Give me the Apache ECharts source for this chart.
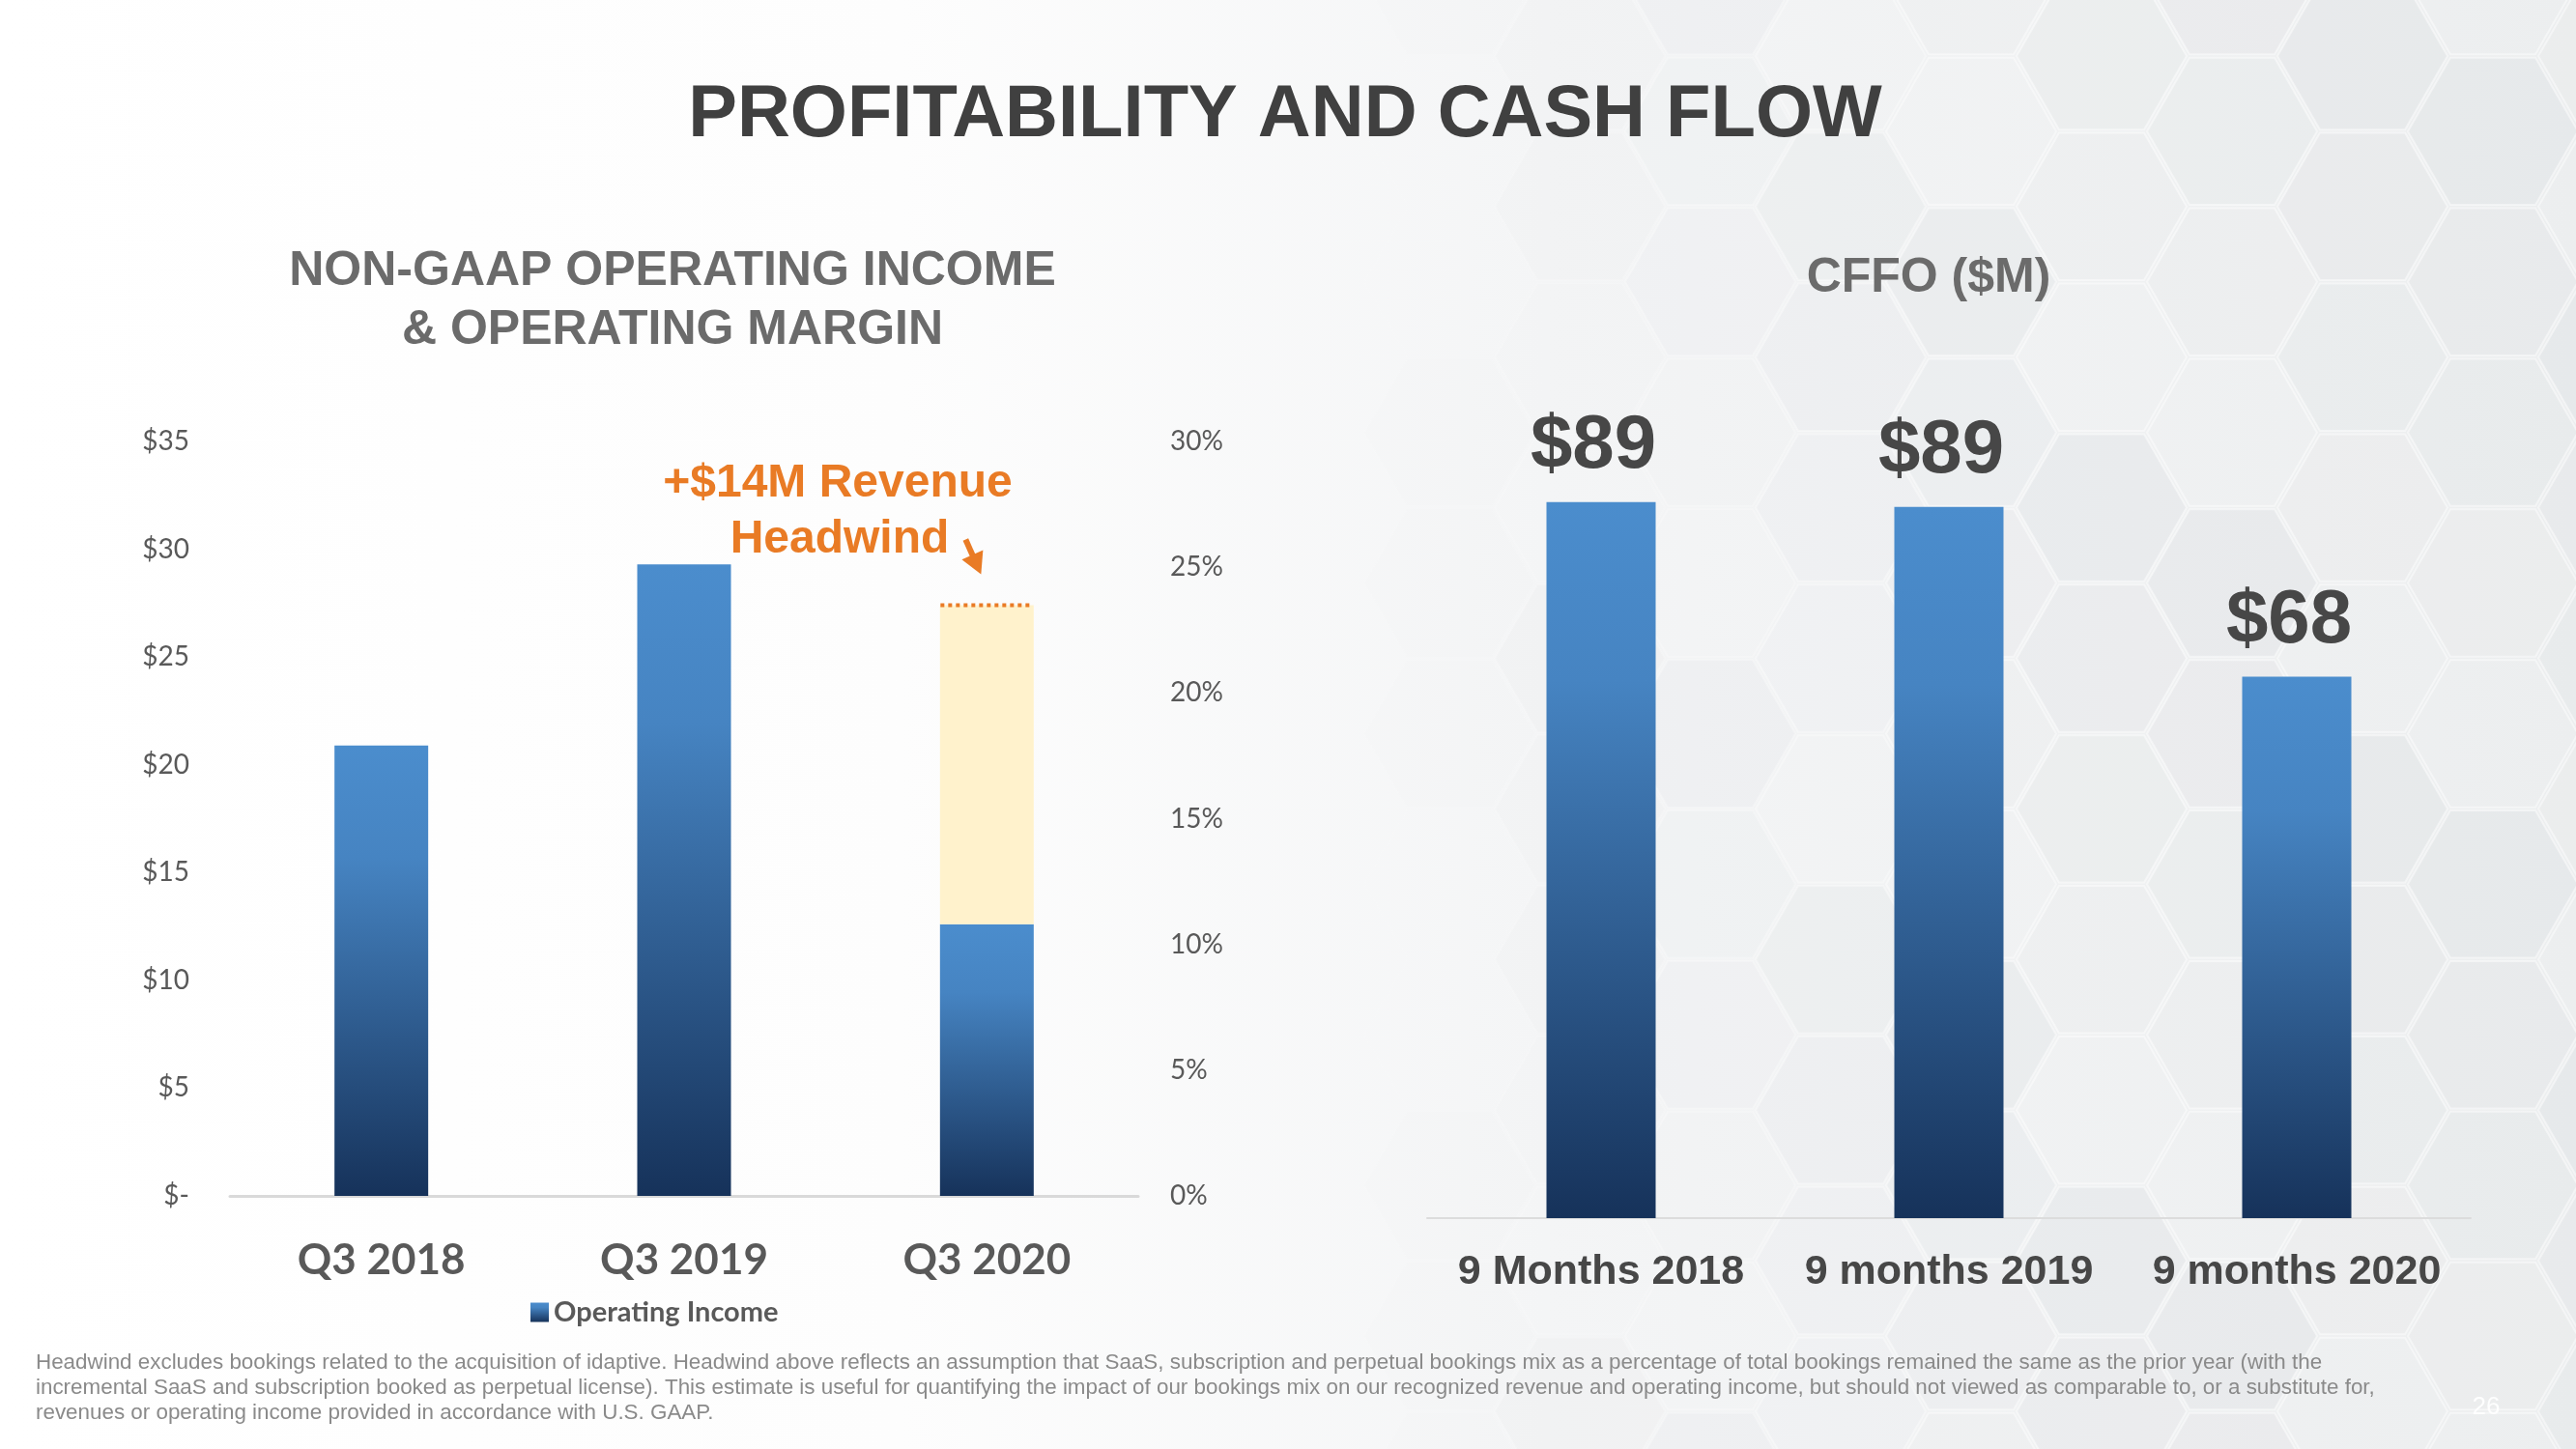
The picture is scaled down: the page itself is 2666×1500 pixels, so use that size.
<!DOCTYPE html>
<html><head><meta charset="utf-8">
<script src="https://cdn.jsdelivr.net/npm/echarts@6/dist/echarts.min.js"></script>
<style>html,body{margin:0;padding:0;background:#fff}#c{width:2666px;height:1500px}</style>
</head><body><div id="c"></div>
<script>
// ---- data ----
const quarters = ['Q3 2018', 'Q3 2019', 'Q3 2020'];
const operatingIncome = [20.9, 29.3, 12.6];
const revenueHeadwind = [null, null, 14.8];
const incomeTickLabels = ['$-', '$5', '$10', '$15', '$20', '$25', '$30', '$35'];
const marginTickLabels = ['0%', '5%', '10%', '15%', '20%', '25%', '30%'];
const periods = ['9 Months 2018', '9 months 2019', '9 months 2020'];
const cffo = [89.4, 88.8, 67.6];
const cffoLabels = ['$89', '$89', '$68'];
const footnote = [
  'Headwind excludes bookings related to the acquisition of idaptive. Headwind above reflects an assumption that SaaS, subscription and perpetual bookings mix as a percentage of total bookings remained the same as the prior year (with the',
  'incremental SaaS and subscription booked as perpetual license). This estimate is useful for quantifying the impact of our bookings mix on our recognized revenue and operating income, but should not viewed as comparable to, or a substitute for,',
  'revenues or operating income provided in accordance with U.S. GAAP.'
];

const chart = echarts.init(document.getElementById('c'), null, {renderer: 'canvas'});
const barGrad = () => new echarts.graphic.LinearGradient(0, 0, 0, 1, [
  {offset: 0, color: '#4B8DCD'}, {offset: 0.25, color: '#4684C2'}, {offset: 1, color: '#16325A'}
]);
const ORANGE = '#E97B25';
const stackTop = operatingIncome[2] + revenueHeadwind[2];

chart.setOption({
  animation: false,
  grid: [
    {left: 238, right: 1488, top: 457, bottom: 262, outerBoundsMode: 'none'},
    {left: 1477, right: 109, top: 432, bottom: 239, outerBoundsMode: 'none'}
  ],
  legend: {
    data: ['Operating Income'], left: 544, top: 1339, icon: 'rect',
    itemWidth: 19, itemHeight: 20, itemGap: 10,
    textStyle: {fontFamily: 'Lato', fontWeight: 'bold', fontSize: 29, color: '#595959'}
  },
  xAxis: [
    {type: 'category', gridIndex: 0, data: quarters,
     axisTick: {show: false},
     axisLine: {lineStyle: {color: '#d9d9d9', width: 3}},
     axisLabel: {interval: 0, fontFamily: 'Lato', fontWeight: 'bold', fontSize: 44, color: '#595959', margin: 45}},
    {type: 'category', gridIndex: 1, data: periods,
     axisTick: {show: false},
     axisLine: {lineStyle: {color: '#dcdcdc', width: 2}},
     axisLabel: {interval: 0, fontFamily: 'Liberation Sans', fontWeight: 'bold', fontSize: 43, color: '#474747', margin: 35}}
  ],
  yAxis: [
    {type: 'value', gridIndex: 0, min: 0, max: 35, interval: 5,
     splitLine: {show: false}, axisLine: {show: false}, axisTick: {show: false},
     axisLabel: {formatter: v => incomeTickLabels[Math.round(v / 5)], fontFamily: 'Lato', fontSize: 28, color: '#595959', margin: 42}},
    {type: 'value', gridIndex: 0, position: 'right', min: 0, max: 30, interval: 5,
     splitLine: {show: false}, axisLine: {show: false}, axisTick: {show: false},
     axisLabel: {formatter: v => marginTickLabels[Math.round(v / 5)], fontFamily: 'Lato', fontSize: 28, color: '#595959', margin: 33}},
    {type: 'value', gridIndex: 1, min: 0, max: 100, show: false}
  ],
  series: [
    {name: 'Operating Income', type: 'bar', xAxisIndex: 0, yAxisIndex: 0, stack: 'oi',
     barWidth: 97, data: operatingIncome, itemStyle: {color: barGrad()}},
    {name: 'Revenue Headwind', type: 'bar', xAxisIndex: 0, yAxisIndex: 0, stack: 'oi',
     barWidth: 97, data: revenueHeadwind, itemStyle: {color: '#FFF2CC'}},
    {name: 'Headwind top', type: 'custom', xAxisIndex: 0, yAxisIndex: 0, z: 5,
     data: [[2, stackTop]],
     renderItem: (params, api) => {
       const p = api.coord([api.value(0), api.value(1)]);
       return {type: 'line', shape: {x1: p[0] - 48, y1: p[1], x2: p[0] + 48, y2: p[1]},
               style: {stroke: ORANGE, lineWidth: 4, lineDash: [4, 4]}};
     }},
    {name: 'CFFO', type: 'bar', xAxisIndex: 1, yAxisIndex: 2, barWidth: 113, data: cffo,
     itemStyle: {color: barGrad()},
     label: {show: true, position: 'top', distance: 18, offset: [-8, 0],
             formatter: p => cffoLabels[p.dataIndex],
             fontFamily: 'Liberation Sans', fontWeight: 'bold', fontSize: 78, color: '#474747'}}
  ]
});

// ---- decorations / text ----
const g = [];
g.push({type: 'rect', z: -20, silent: true, shape: {x: 0, y: 0, width: 2666, height: 1500},
  style: {fill: new echarts.graphic.LinearGradient(0, 0, 1, 0, [
    {offset: 0, color: '#ffffff'}, {offset: 0.35, color: '#fdfdfd'}, {offset: 0.6, color: '#f4f5f6'}, {offset: 1, color: '#eceeef'}])}});
// hexagon texture
const R = 90, H = Math.sqrt(3) * R;
const shades = [0.0, 0.35, 0.6, 0.15, 0.45];
for (let col = 0; col < 30; col++) {
  const cx = 1500 + (col - 12) * 1.5 * R;
  if (cx < 1350 || cx > 2666 + R) continue;
  for (let row = -1; row * H < 1500 + H; row++) {
    const cy = row * H + (col % 2 ? H / 2 : 0) - 20;
    const fade = Math.max(0, Math.min(1, (cx - 1400) / 700));
    const a = shades[(col * 3 + row * 2) % 5] * fade;
    const pts = [];
    for (let k = 0; k < 6; k++) {
      const ang = Math.PI / 3 * k;
      pts.push([cx + (R - 2) * Math.cos(ang), cy + (R - 2) * Math.sin(ang)]);
    }
    g.push({type: 'polygon', z: -10, silent: true, shape: {points: pts},
      style: {fill: 'rgba(214,218,222,' + (a * 0.4).toFixed(3) + ')', stroke: 'rgba(255,255,255,' + (0.45 * fade).toFixed(3) + ')', lineWidth: 2}});
  }
}
function txt(text, x, y, size, color, weight, align, family) {
  return {type: 'text', z: 100, x: x, y: y,
    style: {text: text, fontSize: size, fontWeight: weight || 'normal', fontFamily: family || 'Liberation Sans',
      fill: color, align: align || 'center', verticalAlign: 'middle', textAlign: align || 'center', textVerticalAlign: 'middle'}};
}
g.push(txt('PROFITABILITY AND CASH FLOW', 1330, 120, 76, '#404040', 'bold'));
g.push(txt('NON-GAAP OPERATING INCOME', 696, 281, 50, '#6b6b6b', 'bold'));
g.push(txt('& OPERATING MARGIN', 696, 342, 50, '#6b6b6b', 'bold'));
g.push(txt('CFFO ($M)', 1996, 288, 50, '#6b6b6b', 'bold'));
g.push(txt('+$14M Revenue', 867, 501, 48, ORANGE, 'bold'));
g.push(txt('Headwind', 869, 559, 48, ORANGE, 'bold'));
footnote.forEach((line, i) => g.push(txt(line, 37, 1411 + i * 26, 22.4, '#8a8a8a', 'normal', 'left')));
g.push(txt('26', 2573, 1457, 26, 'rgba(255,255,255,0.9)', 'normal'));

// arrow pointing to the top of the headwind bar
const tp = chart.convertToPixel({gridIndex: 0}, [2, stackTop]);
const tip = [tp[0] - 6, tp[1] - 32];
const tail = [tp[0] - 22, tp[1] - 68];
const dx = tip[0] - tail[0], dy = tip[1] - tail[1], L = Math.hypot(dx, dy);
const ux = dx / L, uy = dy / L, hl = 22, hw = 12;
const base = [tip[0] - ux * hl, tip[1] - uy * hl];
g.push({type: 'line', z: 100, shape: {x1: tail[0], y1: tail[1], x2: base[0] + ux * 2, y2: base[1] + uy * 2},
  style: {stroke: ORANGE, lineWidth: 6}});
g.push({type: 'polygon', z: 100, shape: {points: [tip, [base[0] - uy * hw, base[1] + ux * hw], [base[0] + uy * hw, base[1] - ux * hw]]},
  style: {fill: ORANGE}});

chart.setOption({graphic: {elements: g}});
</script>
</body></html>
